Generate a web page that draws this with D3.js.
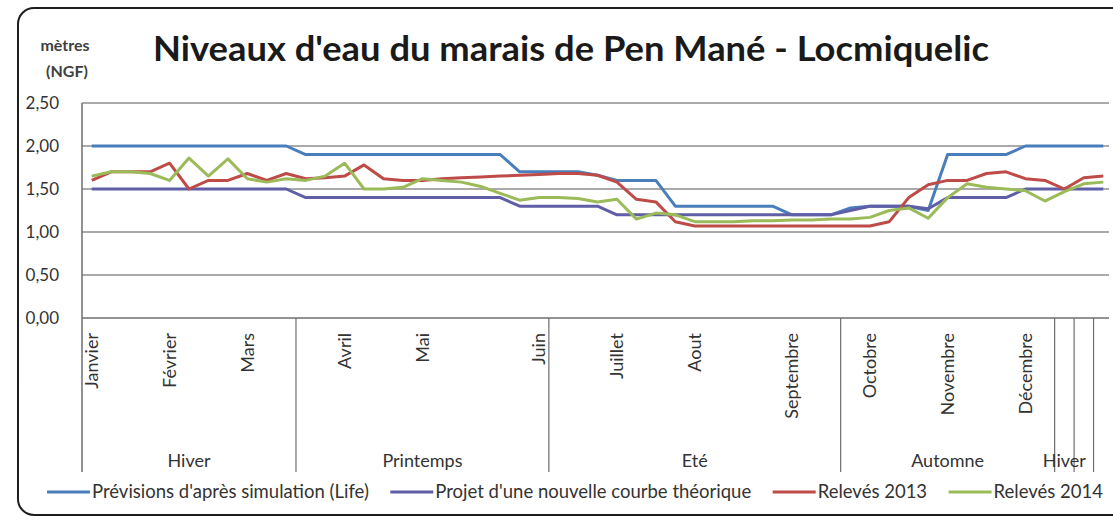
<!DOCTYPE html>
<html>
<head>
<meta charset="utf-8">
<script src="https://cdn.jsdelivr.net/npm/d3@7"></script>
<style>
  body { margin: 0; background: #fff; }
  text { font-family: Lato, "Liberation Sans", sans-serif; }
</style>
</head>
<body>
<script>
// month label of each category (blank = no label)
var monthTicks = [
    "Janvier", "", "", "", "Février", "", "", "", "Mars", "", "", "", "",
    "Avril", "", "", "", "Mai", "", "", "", "", "", "Juin", "", "", "",
    "Juillet", "", "", "", "Aout", "", "", "", "", "Septembre", "", "", "",
    "Octobre", "", "", "", "Novembre", "", "", "", "Décembre", "", "", "", ""
];

// outer level of the category axis
var seasons = ["Hiver", "Printemps", "Eté", "Automne", "Hiver", "", ""];
var seasonStarts = [0, 11, 24, 39, 50, 51, 52];

var yTicks = [0, 0.5, 1, 1.5, 2, 2.5];

var prevision = [
    2.00, 2.00, 2.00, 2.00, 2.00, 2.00, 2.00, 2.00, 2.00, 2.00, 2.00,
    1.90, 1.90, 1.90, 1.90, 1.90, 1.90, 1.90, 1.90, 1.90, 1.90, 1.90,
    1.70, 1.70, 1.70, 1.70, 1.66, 1.60, 1.60, 1.60,
    1.30, 1.30, 1.30, 1.30, 1.30, 1.30,
    1.20, 1.20, 1.20,
    1.28, 1.30, 1.30, 1.30, 1.25,
    1.90, 1.90, 1.90, 1.90,
    2.00, 2.00, 2.00, 2.00, 2.00
];

var projet = [
    1.50, 1.50, 1.50, 1.50, 1.50, 1.50, 1.50, 1.50, 1.50, 1.50, 1.50,
    1.40, 1.40, 1.40, 1.40, 1.40, 1.40, 1.40, 1.40, 1.40, 1.40, 1.40,
    1.30, 1.30, 1.30, 1.30, 1.30,
    1.20, 1.20, 1.20, 1.20, 1.20, 1.20, 1.20, 1.20, 1.20, 1.20, 1.20, 1.20,
    1.25, 1.30, 1.30, 1.30, 1.27,
    1.40, 1.40, 1.40, 1.40,
    1.50, 1.50, 1.50, 1.50, 1.50
];

var releves2013 = [
    1.60, 1.70, 1.70, 1.70, 1.80, 1.50, 1.60, 1.60, 1.68, 1.60, 1.68, 1.62,
    1.63, 1.65, 1.78, 1.62, 1.60, 1.60, 1.62, 1.63, 1.64, 1.65, 1.66, 1.67, 1.68, 1.68, 1.66,
    1.58, 1.38, 1.35, 1.12,
    1.07, 1.07, 1.07, 1.07, 1.07, 1.07, 1.07, 1.07, 1.07, 1.07,
    1.12, 1.40, 1.55, 1.60, 1.60, 1.68, 1.70, 1.62, 1.60, 1.50, 1.63, 1.65
];

var releves2014 = [
    1.65, 1.70, 1.70, 1.68, 1.60, 1.86, 1.65, 1.85, 1.62, 1.58, 1.62, 1.60,
    1.65, 1.80, 1.50, 1.50, 1.52, 1.62, 1.60, 1.58, 1.53, 1.45, 1.37, 1.40, 1.40, 1.39, 1.35,
    1.38, 1.15, 1.22, 1.20,
    1.12, 1.12, 1.12, 1.13, 1.13, 1.14, 1.14, 1.15, 1.15, 1.17,
    1.25, 1.28, 1.16, 1.40, 1.56, 1.52, 1.50, 1.48, 1.36, 1.47, 1.56, 1.58
];

var seriesNames = [
    "Prévisions d'après simulation (Life)",
    "Projet d'une nouvelle courbe théorique",
    "Relevés 2013",
    "Relevés 2014"
];
var seriesValues = [prevision, projet, releves2013, releves2014];
var seriesColors = ["#4a7ebb", "#5f5ea6", "#be4b48", "#9bbb59"];

var width = 1113, height = 520;
var plotLeft = 82, plotRight = 1113, plotTop = 103, plotBottom = 318;
var axisBottom = 472;
var gridRight = 1109;

var svg = d3.select("body").append("svg")
    .attr("width", width)
    .attr("height", height);

svg.append("rect")
    .attr("width", width).attr("height", height)
    .attr("fill", "#fff");

// chart frame
svg.append("rect")
    .attr("x", 18).attr("y", 8)
    .attr("width", 1110).attr("height", 507)
    .attr("rx", 16)
    .attr("fill", "none")
    .attr("stroke", "#1e1e1e")
    .attr("stroke-width", 2);

var x = d3.scaleBand()
    .domain(d3.range(monthTicks.length))
    .range([plotLeft, plotRight])
    .padding(0);

var y = d3.scaleLinear()
    .domain([0, 2.5])
    .range([plotBottom, plotTop]);

var fmt = function (v) { return d3.format(".2f")(v).replace(".", ","); };

// gridlines
svg.append("g")
    .selectAll("line")
    .data(yTicks)
    .enter().append("line")
    .attr("x1", plotLeft).attr("x2", gridRight)
    .attr("y1", function (d) { return y(d); })
    .attr("y2", function (d) { return y(d); })
    .attr("stroke", function (d) { return d === 0 ? "#6e6e6e" : "#8e8e8e"; })
    .attr("stroke-width", 1.5);

// y axis labels
svg.append("g")
    .selectAll("text")
    .data(yTicks)
    .enter().append("text")
    .attr("x", 59)
    .attr("y", function (d) { return y(d) + 6; })
    .attr("text-anchor", "end")
    .style("font-size", "17px")
    .style("fill", "#333")
    .text(fmt);

// left axis line (runs down through the category labels)
svg.append("line")
    .attr("x1", plotLeft).attr("x2", plotLeft)
    .attr("y1", plotTop).attr("y2", axisBottom)
    .attr("stroke", "#6e6e6e").attr("stroke-width", 1.5);

// season separators
svg.append("g")
    .selectAll("line")
    .data(seasonStarts.slice(1))
    .enter().append("line")
    .attr("x1", function (d) { return x(d); })
    .attr("x2", function (d) { return x(d); })
    .attr("y1", plotBottom).attr("y2", axisBottom)
    .attr("stroke", "#6e6e6e").attr("stroke-width", 1.2);

// month labels
svg.append("g")
    .selectAll("text")
    .data(monthTicks)
    .enter().append("text")
    .attr("transform", function (d, i) {
        return "translate(" + (x(i) + x.bandwidth() / 2) + "," + 333 + ") rotate(-90)";
    })
    .attr("text-anchor", "end")
    .attr("dy", "0.35em")
    .style("font-size", "18px")
    .style("fill", "#333")
    .text(function (d) { return d; });

// season labels
svg.append("g")
    .selectAll("text")
    .data(seasons)
    .enter().append("text")
    .attr("x", function (d, i) {
        var end = i + 1 < seasonStarts.length ? seasonStarts[i + 1] : monthTicks.length;
        return (x(seasonStarts[i]) + x(end - 1) + x.bandwidth()) / 2;
    })
    .attr("y", 467)
    .attr("text-anchor", "middle")
    .style("font-size", "18px")
    .style("fill", "#333")
    .text(function (d) { return d; });

// lines
var line = d3.line()
    .x(function (d, i) { return x(i) + x.bandwidth() / 2; })
    .y(function (d) { return y(d); });

svg.append("g")
    .selectAll("path")
    .data(seriesValues)
    .enter().append("path")
    .attr("d", line)
    .attr("fill", "none")
    .attr("stroke", function (d, i) { return seriesColors[i]; })
    .attr("stroke-width", 3)
    .attr("stroke-linejoin", "round");

// title
svg.append("text")
    .attr("x", 571).attr("y", 61)
    .attr("text-anchor", "middle")
    .attr("textLength", 836)
    .attr("lengthAdjust", "spacingAndGlyphs")
    .style("font-size", "35px")
    .style("font-weight", "bold")
    .style("fill", "#1a1a1a")
    .text("Niveaux d'eau du marais de Pen Mané - Locmiquelic");

// unit label
svg.append("text")
    .attr("x", 65).attr("y", 51)
    .attr("text-anchor", "middle")
    .style("font-size", "16px")
    .style("font-weight", "bold")
    .style("fill", "#404040")
    .text("mètres");
svg.append("text")
    .attr("x", 67).attr("y", 77)
    .attr("text-anchor", "middle")
    .style("font-size", "16px")
    .style("font-weight", "bold")
    .style("fill", "#404040")
    .text("(NGF)");

// legend, spread between its measured left and right ends
var legendLeft = 47, legendRight = 1103;
var legend = svg.append("g").attr("transform", "translate(0,492)");
var items = legend.selectAll("g")
    .data(seriesNames)
    .enter().append("g");

items.append("line")
    .attr("x1", 0).attr("x2", 43)
    .attr("y1", 0).attr("y2", 0)
    .attr("stroke", function (d, i) { return seriesColors[i]; })
    .attr("stroke-width", 3);

items.append("text")
    .attr("x", 45).attr("y", 6)
    .style("font-size", "18.5px")
    .style("fill", "#333")
    .text(function (d) { return d; });

var used = 0;
items.each(function () {
    used += 45 + d3.select(this).select("text").node().getComputedTextLength();
});
var gap = (legendRight - legendLeft - used) / (seriesNames.length - 1);
var pos = legendLeft;
items.each(function () {
    var g = d3.select(this);
    g.attr("transform", "translate(" + pos + ",0)");
    pos += 45 + g.select("text").node().getComputedTextLength() + gap;
});
</script>
</body>
</html>
